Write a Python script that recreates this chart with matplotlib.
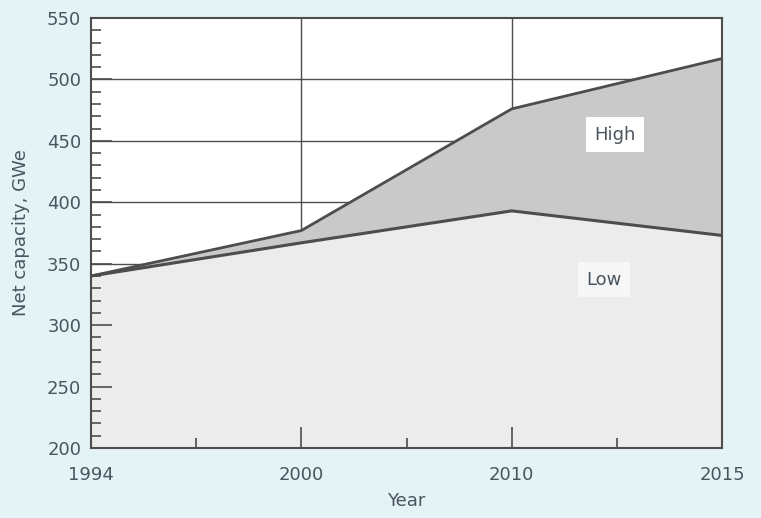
import matplotlib.pyplot as plt
from matplotlib.ticker import MultipleLocator, FixedLocator

# data (x axis is evenly spaced by category)
years = ["1994", "2000", "2010", "2015"]
high = [340, 377, 476, 517]
low = [340, 367, 393, 373]

bg = "#e4f3f5"
txt = "#4a5560"
dark = "#4d4d4d"

plt.rcParams["font.family"] = ["DejaVu Sans"]

fig = plt.figure(figsize=(7.61, 5.18), dpi=100, facecolor=bg)
ax = fig.add_axes([0.1196, 0.1351, 0.8292, 0.8302])
ax.set_facecolor("white")
ax.set_axisbelow(False)

x = list(range(len(years)))

# grid first, fills drawn over it
for yv in [350, 400, 450, 500]:
    ax.axhline(yv, color=dark, lw=1.0, zorder=1)
for xv in [1, 2]:
    ax.axvline(xv, color=dark, lw=1.0, zorder=1)

ax.fill_between(x, 200, low, color="#ececec", lw=0, zorder=2)
ax.fill_between(x, low, high, color="#c9c9c9", lw=0, zorder=2)
ax.plot(x, high, color=dark, lw=2.0, zorder=3)
ax.plot(x, low, color=dark, lw=2.2, zorder=3)

ax.text(2.49, 455, "High", fontsize=13, color=txt, ha="center", va="center",
        bbox=dict(facecolor="white", edgecolor="none", pad=6), zorder=4)
ax.text(2.44, 337, "Low", fontsize=13, color=txt, ha="center", va="center",
        bbox=dict(facecolor="#f6f6f6", edgecolor="none", pad=6), zorder=4)

ax.set_xlim(0, 3)
ax.set_ylim(200, 550)
ax.set_xticks(x)
ax.set_xticklabels(years)
ax.xaxis.set_minor_locator(FixedLocator([0.5, 1.5, 2.5]))
ax.yaxis.set_major_locator(MultipleLocator(50))
ax.yaxis.set_minor_locator(MultipleLocator(10))

ax.tick_params(axis="both", which="major", direction="in", length=15, width=1.2,
               color=dark, labelsize=13, labelcolor=txt)
ax.tick_params(axis="both", which="minor", direction="in", length=7, width=1.2,
               color=dark)
ax.tick_params(axis="x", which="major", pad=13)
ax.tick_params(axis="y", which="major", pad=7)

for s in ax.spines.values():
    s.set_color(dark)
    s.set_linewidth(1.5)
    s.set_zorder(5)

ax.set_xlabel("Year", fontsize=13, color=txt, labelpad=6)
ax.set_ylabel("Net capacity, GWe", fontsize=13, color=txt, labelpad=12)

fig.savefig("out.png", dpi=100, facecolor=bg)
